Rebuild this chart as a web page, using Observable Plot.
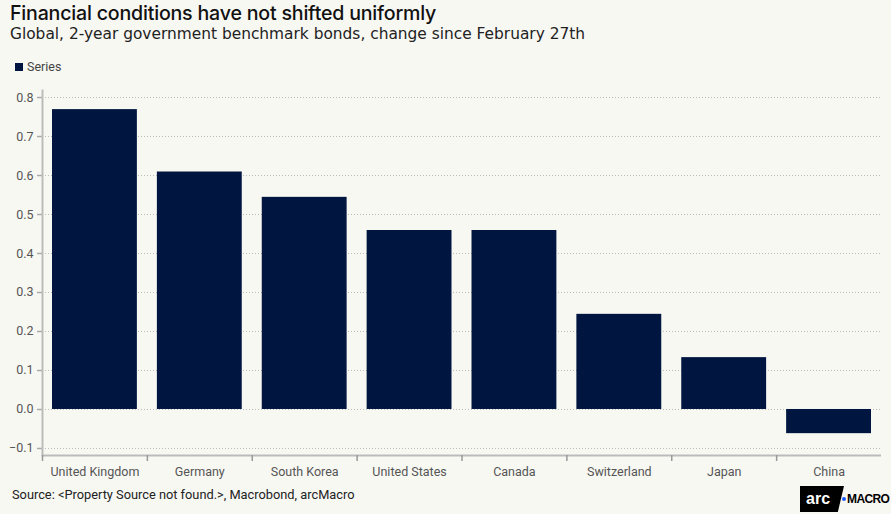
<!DOCTYPE html>
<html>
<head>
<meta charset="utf-8">
<script src="https://cdn.jsdelivr.net/npm/d3@7"></script>
<script src="https://cdn.jsdelivr.net/npm/@observablehq/plot@0.6"></script>
<style>
  html, body { margin: 0; padding: 0; }
  body { width: 891px; height: 514px; background: #f8f8f3; position: relative; overflow: hidden; font-family: Roboto, "Liberation Sans", sans-serif; }
  #title { position: absolute; left: 10px; top: 1px; font-family: Inter, "Noto Sans", sans-serif; font-weight: 500; font-size: 19.6px; color: #111; letter-spacing: -0.2px; }
  #subtitle { position: absolute; left: 10px; top: 25px; font-family: "DejaVu Sans", sans-serif; font-size: 15.4px; color: #222; }
  #legend { position: absolute; left: 15px; top: 59px; font-size: 12.5px; color: #444; display: flex; align-items: center; }
  #legend span.sw { width: 8px; height: 8px; background: #001641; display: inline-block; margin-right: 4px; }
  #chart { position: absolute; left: 0; top: 80px; }
  #source { position: absolute; left: 12px; top: 487px; font-size: 12.8px; color: #222; }
  #logo { position: absolute; left: 800px; top: 486px; width: 91px; display: flex; align-items: center; }
  #logo .box { background: #000; color: #fff; font-weight: 900; font-size: 16px; font-family: "Liberation Sans", Arial, sans-serif; width: 44px; padding-left: 6px; box-sizing: border-box; clip-path: polygon(0 0, 100% 0, 86% 100%, 0 100%); height: 26px; line-height: 25px; }
  #logo .dot { width: 4px; height: 4px; border-radius: 50%; background: #1e5bff; margin-left: -2px; margin-right: 1px; }
  #logo .m { font-weight: 900; font-size: 12px; font-family: "Liberation Sans", Arial, sans-serif; color: #000; letter-spacing: -0.6px; white-space: nowrap; }
</style>
</head>
<body>
<div id="title">Financial conditions have not shifted uniformly</div>
<div id="subtitle">Global, 2-year government benchmark bonds, change since February 27th</div>
<div id="legend"><span class="sw"></span>Series</div>
<div id="chart"></div>
<div id="source">Source: &lt;Property Source not found.&gt;, Macrobond, arcMacro</div>
<div id="logo"><div class="box">arc</div><div class="dot"></div><div class="m">MACRO</div></div>
<script>
const categories = ["United Kingdom", "Germany", "South Korea", "United States", "Canada", "Switzerland", "Japan", "China"];
const values = [0.769, 0.609, 0.544, 0.459, 0.459, 0.244, 0.133, -0.062];
const yTicks = [-0.1, 0, 0.1, 0.2, 0.3, 0.4, 0.5, 0.6, 0.7, 0.8];

const data = categories.map((c, i) => ({category: c, index: i, value: values[i]}));
const idx = categories.map((c, i) => i);
const yMin = -0.118, yMax = 0.818;

const chart = Plot.plot({
  width: 891,
  height: 402,
  marginTop: 10,
  marginBottom: 27,
  marginLeft: 42,
  marginRight: 10,
  style: {background: "transparent", fontFamily: "Roboto, 'Liberation Sans', sans-serif", fontSize: "12.5px", color: "#555"},
  x: {domain: [0, categories.length]},
  y: {domain: [yMin, yMax]},
  marks: [
    Plot.gridY(yTicks, {stroke: "#bbb", strokeOpacity: 1, strokeDasharray: "1,2", strokeWidth: 1}),
    Plot.rectY(data, {x1: "index", x2: d => d.index + 1, y1: 0, y2: "value", fill: "#001641", insetLeft: 10, insetRight: 10}),
    Plot.axisY(yTicks, {tickSize: 5, tickPadding: 4, stroke: "#aaa", strokeWidth: 1.5, fill: "#555", tickFormat: d3.format(".1f"), label: null}),
    Plot.frame({anchor: "left", stroke: "#bbb", strokeWidth: 2}),
    Plot.ruleY([yMin], {stroke: "#bbb", strokeWidth: 2}),
    Plot.axisX(idx, {tickSize: 6, tickFormat: () => "", stroke: "#999", strokeWidth: 1.5, label: null}),
    Plot.axisX(idx.map(i => i + 0.5), {tickSize: 0, tickPadding: 12, tickFormat: d => categories[Math.floor(d)], fill: "#555", fontSize: 12.5, label: null})
  ]
});
document.getElementById("chart").appendChild(chart);
</script>
</body>
</html>
